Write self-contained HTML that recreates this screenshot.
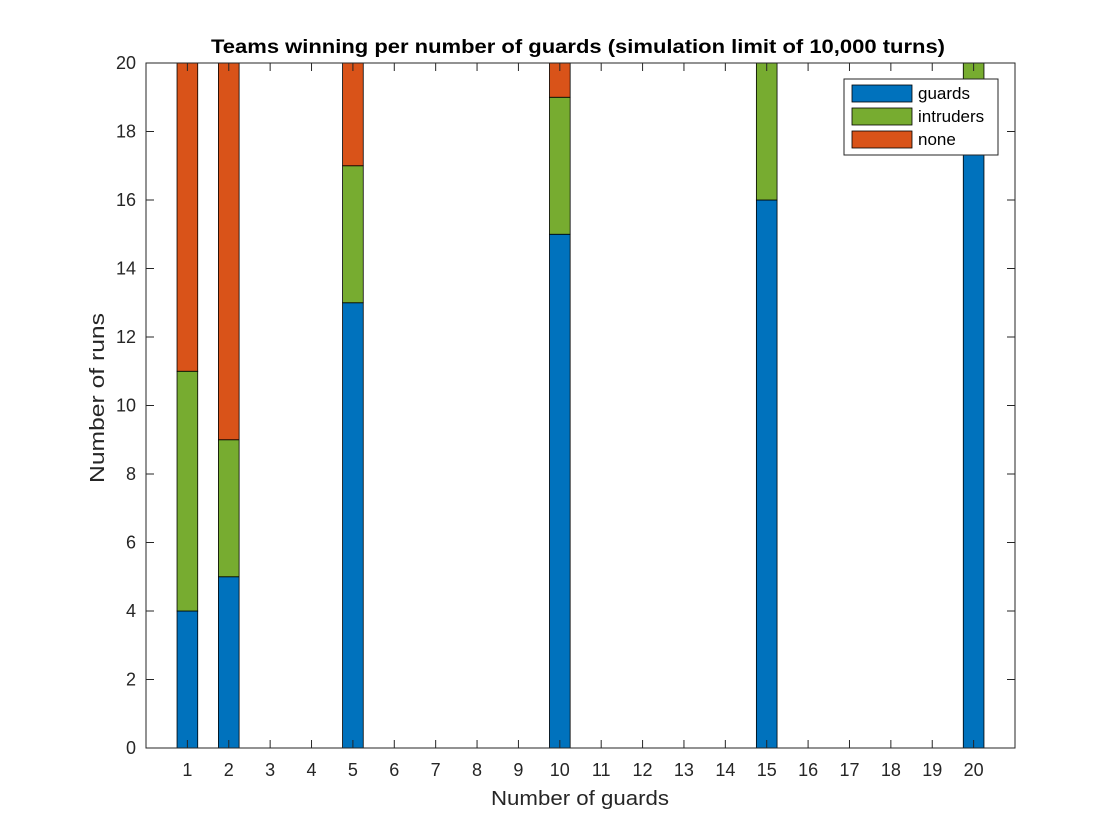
<!DOCTYPE html>
<html><head><meta charset="utf-8"><style>
body{margin:0;background:#fff;}
svg{display:block;font-family:"Liberation Sans",Arial,sans-serif;}
</style></head><body>
<svg id="chart" width="1120" height="840"></svg>
<script>
const categories=[1,2,3,4,5,6,7,8,9,10,11,12,13,14,15,16,17,18,19,20];
const guards=[4,5,0,0,13,0,0,0,0,15,0,0,0,0,16,0,0,0,0,19];
const intruders=[7,4,0,0,4,0,0,0,0,4,0,0,0,0,4,0,0,0,0,1];
const none=[9,11,0,0,3,0,0,0,0,1,0,0,0,0,0,0,0,0,0,0];
const yTicks=[0,2,4,6,8,10,12,14,16,18,20];
const seriesNames=['guards','intruders','none'];
const colors=['#0072BD','#77AC30','#D95319'];

const NS='http://www.w3.org/2000/svg';
const svg=document.getElementById('chart');
const L=146,R=1015,T=63,B=748;
const x=v=>L+(v-0)/(21-0)*(R-L);
const y=v=>B-(v/20)*(B-T);
function mk(tag,attrs,parent){const e=document.createElementNS(NS,tag);for(const k in attrs)e.setAttribute(k,attrs[k]);(parent||svg).appendChild(e);return e;}

const bg=mk('rect',{x:L,y:T,width:R-L,height:B-T,fill:'#fff'});



const series=[guards,intruders,none];
const bw=(x(1)-x(0))*0.5;
categories.forEach((c,i)=>{
  let base=0;
  series.forEach((s,k)=>{
    const v=s[i];
    if(v>0){
      const r=mk('rect',{x:x(c)-bw/2,y:y(base+v),width:bw,height:y(base)-y(base+v),fill:colors[k],stroke:'#000','stroke-width':0.8});
      
      
    }
    base+=v;
  });
});

const box=mk('rect',{x:L,y:T,width:R-L,height:B-T,fill:'none',stroke:'#262626','stroke-width':1});



categories.forEach(c=>{
  mk('line',{x1:x(c),x2:x(c),y1:B,y2:B-8,stroke:'#262626'});
  mk('line',{x1:x(c),x2:x(c),y1:T,y2:T+8,stroke:'#262626'});
  const t=mk('text',{x:x(c),y:B+28,'text-anchor':'middle','font-size':18,fill:'#262626'});
  t.textContent=c;
  
  
});
yTicks.forEach(v=>{
  mk('line',{x1:L,x2:L+8,y1:y(v),y2:y(v),stroke:'#262626'});
  mk('line',{x1:R,x2:R-8,y1:y(v),y2:y(v),stroke:'#262626'});
  const t=mk('text',{x:L-10,y:y(v)+6,'text-anchor':'end','font-size':18,fill:'#262626'});
  t.textContent=v;
  
  
});

const title=mk('text',{x:211,y:53,'font-size':19,'font-weight':'bold',fill:'#000',textLength:734,lengthAdjust:'spacingAndGlyphs'});
title.textContent='Teams winning per number of guards (simulation limit of 10,000 turns)';



const xl=mk('text',{x:491,y:805,'font-size':20,fill:'#262626',textLength:178,lengthAdjust:'spacingAndGlyphs'});
xl.textContent='Number of guards';



const yl=mk('text',{x:0,y:0,'font-size':20,fill:'#262626',textLength:170,lengthAdjust:'spacingAndGlyphs',transform:'translate(104,483) rotate(-90)'});
yl.textContent='Number of runs';



const lg=mk('g',{});


mk('rect',{x:844,y:79,width:154,height:76,fill:'#fff',stroke:'#262626','stroke-width':1},lg);
seriesNames.forEach((n,k)=>{
  const yy=85+k*23;
  const sw=mk('rect',{x:852,y:yy,width:60,height:17,fill:colors[k],stroke:'#000','stroke-width':0.8},lg);
  
  
  const t=mk('text',{x:918,y:yy+14,'font-size':17,fill:'#000'},lg);
  t.textContent=n;
  
  
});
</script>
</body></html>
